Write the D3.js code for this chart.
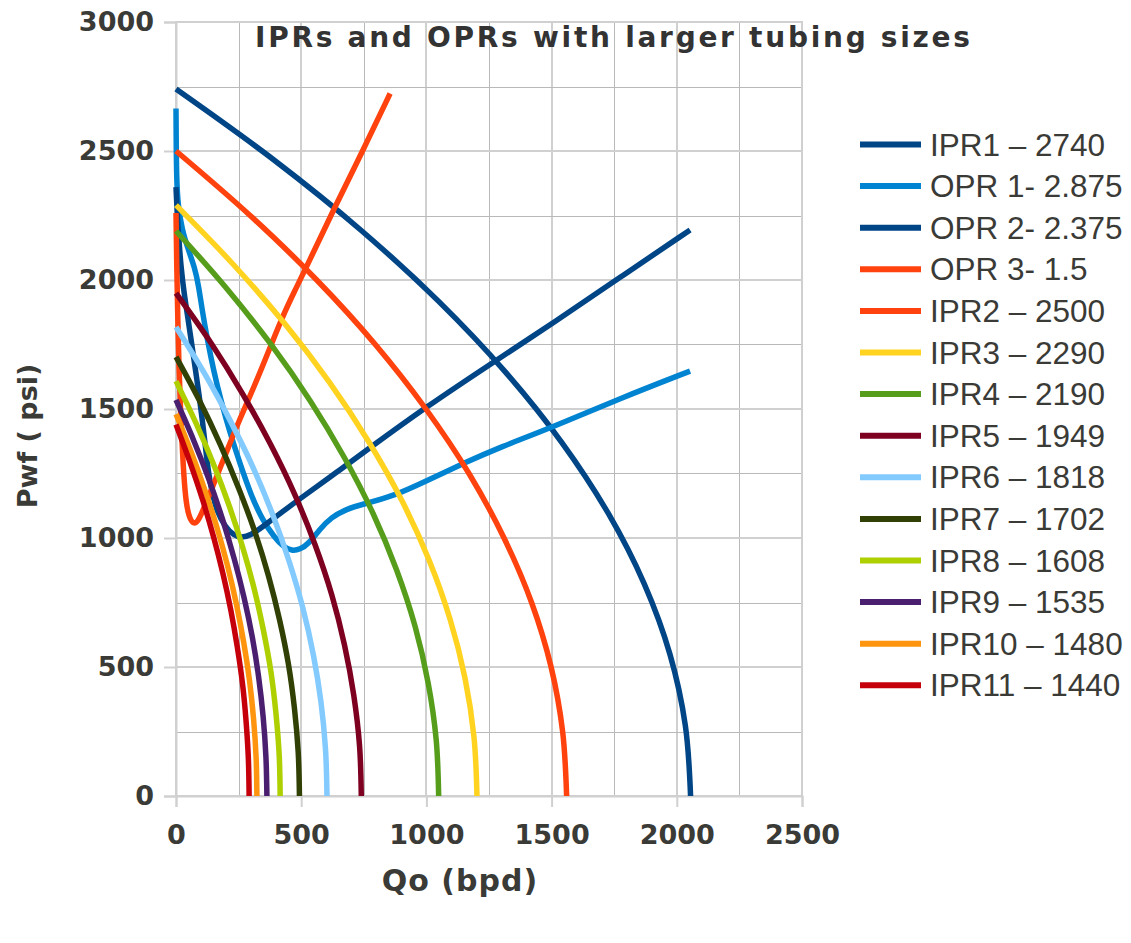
<!DOCTYPE html>
<html>
<head>
<meta charset="utf-8">
<script src="https://cdn.jsdelivr.net/npm/d3@7"></script>
<style>
  html, body { margin: 0; padding: 0; background: #ffffff; }
  svg { display: block; }
</style>
</head>
<body>
<svg id="chart" width="1131" height="943"></svg>
<script>
// Axis ticks
const xTicks = [0, 500, 1000, 1500, 2000, 2500];
const yTicks = [0, 500, 1000, 1500, 2000, 2500, 3000];
const gridStep = 250;

// Inflow performance curves: [rate Qo (bpd), flowing pressure Pwf (psi)]
const ipr1 = [[0,2740],[390,2466],[740,2192],[1048,1918],[1315,1644],[1541,1370],[1726,1096],[1870,822],[1973,548],[2034,274],[2055,0]];
const ipr2 = [[0,2500],[296,2250],[562,2000],[796,1750],[998,1500],[1170,1250],[1310,1000],[1420,750],[1498,500],[1544,250],[1560,0]];
const ipr3 = [[0,2290],[228,2061],[433,1832],[613,1603],[769,1374],[902,1145],[1010,916],[1094,687],[1154,458],[1190,229],[1202,0]];
const ipr4 = [[0,2190],[199,1971],[378,1752],[535,1533],[671,1314],[787,1095],[881,876],[955,657],[1007,438],[1039,219],[1049,0]];
const ipr5 = [[0,1949],[141,1754],[266,1559],[377,1364],[474,1169],[555,975],[622,780],[673,585],[710,390],[733,195],[740,0]];
const ipr6 = [[0,1818],[115,1636],[217,1454],[308,1273],[386,1091],[452,909],[507,727],[549,545],[579,364],[597,182],[603,0]];
const ipr7 = [[0,1702],[94,1532],[177,1362],[251,1191],[316,1021],[370,851],[414,681],[449,511],[473,340],[488,170],[493,0]];
const ipr8 = [[0,1608],[79,1447],[150,1286],[212,1126],[266,965],[312,804],[349,643],[379,482],[399,322],[412,161],[416,0]];
const ipr9 = [[0,1535],[69,1382],[131,1228],[185,1075],[232,921],[272,768],[305,614],[330,461],[348,307],[359,154],[363,0]];
const ipr10 = [[0,1480],[61,1332],[116,1184],[165,1036],[207,888],[242,740],[271,592],[294,444],[310,296],[320,148],[323,0]];
const ipr11 = [[0,1440],[55,1296],[105,1152],[149,1008],[187,864],[219,720],[245,576],[266,432],[280,288],[289,144],[292,0]];

// Outflow (tubing) performance curves: [Qo (bpd), Pwf (psi)]
const opr1 = [[0,2665],[1,2500],[3,2380],[8,2290],[24,2195],[50,2115],[74,2050],[90,1980],[105,1880],[125,1770],[150,1650],[180,1530],[215,1410],[255,1290],[300,1165],[345,1070],[395,1000],[430,965],[462,950],[495,955],[530,978],[575,1035],[620,1080],[680,1112],[750,1132],[868,1162],[1001,1222],[1147,1289],[1294,1352],[1500,1428],[1773,1541],[2053,1647]];
const opr2 = [[0,2360],[5,2250],[12,2150],[20,2050],[32,1950],[48,1850],[63,1750],[78,1650],[93,1550],[106,1450],[118,1350],[130,1250],[145,1170],[165,1100],[195,1045],[230,1010],[262,1000],[300,1012],[342,1040],[422,1100],[509,1162],[642,1255],[761,1340],[994,1505],[1281,1690],[1507,1834],[1773,2010],[2053,2194]];
const opr3 = [[0,2260],[3,2050],[7,1850],[12,1650],[18,1500],[25,1350],[32,1230],[40,1140],[52,1080],[70,1052],[88,1065],[105,1100],[149,1205],[202,1335],[256,1464],[315,1593],[369,1722],[422,1851],[475,1960],[522,2052],[628,2271],[748,2504],[855,2723]];

// Series in drawing / legend order
const seriesNames = ["IPR1 – 2740", "OPR 1- 2.875", "OPR 2- 2.375", "OPR 3- 1.5", "IPR2 – 2500", "IPR3 – 2290", "IPR4 – 2190", "IPR5 – 1949", "IPR6 – 1818", "IPR7 – 1702", "IPR8 – 1608", "IPR9 – 1535", "IPR10 – 1480", "IPR11 – 1440"];
const seriesData = [ipr1, opr1, opr2, opr3, ipr2, ipr3, ipr4, ipr5, ipr6, ipr7, ipr8, ipr9, ipr10, ipr11];
const seriesColors = ["#004586", "#0084d1", "#004586", "#ff420e", "#ff420e", "#ffd320", "#579d1c", "#7e0021", "#83caff", "#314004", "#aecf00", "#4b1f6f", "#ff950e", "#c5000b"];
const seriesIsOutflow = [false, true, true, true, false, false, false, false, false, false, false, false, false, false];

const chartTitle = "IPRs and OPRs with larger tubing sizes";
const xTitle = "Qo (bpd)";
const yTitle = "Pwf ( psi)";

const svg = d3.select("#chart");
const plot = { left: 176, right: 802, top: 22, bottom: 796 };

const x = d3.scaleLinear().domain([0, 2500]).range([plot.left, plot.right]);
const y = d3.scaleLinear().domain([0, 3000]).range([plot.bottom, plot.top]);

const labelColor = "#3a3a36";
const gridMinor = "#b9b9b9";
const gridMajor = "#d0d0d0";

// Grid
const grid = svg.append("g");
const xGrid = d3.range(0, 2500 + 1, gridStep);
const yGrid = d3.range(0, 3000 + 1, gridStep);
grid.selectAll("line.vx").data(xGrid).join("line")
  .attr("x1", d => d % 500 === 0 ? Math.round(x(d)) : Math.round(x(d)) + 0.5)
  .attr("x2", d => d % 500 === 0 ? Math.round(x(d)) : Math.round(x(d)) + 0.5)
  .attr("y1", plot.top).attr("y2", plot.bottom)
  .attr("stroke", d => d % 500 === 0 ? gridMajor : gridMinor)
  .attr("stroke-width", d => d % 500 === 0 ? 2 : 1);
grid.selectAll("line.hy").data(yGrid).join("line")
  .attr("y1", d => d % 500 === 0 ? Math.round(y(d)) : Math.round(y(d)) + 0.5)
  .attr("y2", d => d % 500 === 0 ? Math.round(y(d)) : Math.round(y(d)) + 0.5)
  .attr("x1", plot.left).attr("x2", plot.right)
  .attr("stroke", d => d % 500 === 0 ? gridMajor : gridMinor)
  .attr("stroke-width", d => d % 500 === 0 ? 2 : 1);

// Axes
const fontHeavy = "'DejaVu Sans', sans-serif";
const yAxis = svg.append("g")
  .attr("transform", `translate(${plot.left},0)`)
  .call(d3.axisLeft(y).tickValues(yTicks).tickSize(12).tickPadding(10).tickFormat(d3.format("d")));
const xAxis = svg.append("g")
  .attr("transform", `translate(0,${plot.bottom})`)
  .call(d3.axisBottom(x).tickValues(xTicks).tickSize(11).tickPadding(12).tickFormat(d3.format("d")));
[xAxis, yAxis].forEach(a => {
  a.select(".domain").attr("stroke", gridMajor).attr("stroke-width", 2);
  a.selectAll(".tick line").attr("stroke", gridMajor).attr("stroke-width", 2);
  a.selectAll(".tick text")
    .attr("fill", labelColor)
    .attr("font-family", fontHeavy)
    .attr("font-weight", "bold")
    .attr("font-size", 27);
});
yAxis.selectAll(".tick text").attr("x", -22);
xAxis.selectAll(".tick text").attr("dy", "0.71em").attr("y", 29);

// Frame
svg.append("rect")
  .attr("x", plot.left).attr("y", plot.top)
  .attr("width", plot.right - plot.left).attr("height", plot.bottom - plot.top)
  .attr("fill", "none").attr("stroke", gridMajor).attr("stroke-width", 2);

// Curves
svg.append("clipPath").attr("id", "plotClip")
  .append("rect")
  .attr("x", plot.left - 3).attr("y", plot.top)
  .attr("width", plot.right - plot.left + 6).attr("height", plot.bottom - plot.top);

const inflowLine = d3.line()
  .x(d => x(d[0]))
  .y(d => y(d[1]))
  .curve(d3.curveCatmullRom.alpha(0.5));
const outflowLine = d3.line()
  .x(d => x(d[0]))
  .y(d => y(d[1]))
  .curve(d3.curveBasis);

svg.append("g").attr("clip-path", "url(#plotClip)")
  .selectAll("path").data(seriesData).join("path")
  .attr("d", (d, i) => seriesIsOutflow[i] ? outflowLine(d) : inflowLine(d))
  .attr("fill", "none")
  .attr("stroke", (d, i) => seriesColors[i])
  .attr("stroke-width", 5.5)
  .attr("stroke-linejoin", "round")
  .attr("stroke-linecap", "butt");

// Title
svg.append("text")
  .attr("x", 255).attr("y", 47)
  .attr("textLength", 715).attr("lengthAdjust", "spacing")
  .attr("fill", "#333333")
  .attr("font-family", fontHeavy)
  .attr("font-weight", "bold")
  .attr("font-size", 28)
  .text(chartTitle);

// Axis titles
svg.append("text")
  .attr("x", 460).attr("y", 891)
  .attr("text-anchor", "middle")
  .attr("fill", labelColor)
  .attr("font-family", fontHeavy)
  .attr("font-weight", "bold")
  .attr("font-size", 30)
  .attr("letter-spacing", 1)
  .text(xTitle);

svg.append("text")
  .attr("transform", "translate(37,436) rotate(-90)")
  .attr("text-anchor", "middle")
  .attr("fill", labelColor)
  .attr("font-family", fontHeavy)
  .attr("font-weight", "bold")
  .attr("font-size", 27)
  .text(yTitle);

// Legend
const legend = svg.append("g");
const rowY = i => 144.5 + i * 41.6;
const rows = legend.selectAll("g").data(seriesNames).join("g")
  .attr("transform", (d, i) => `translate(0,${rowY(i)})`);
rows.append("line")
  .attr("x1", 860).attr("x2", 921)
  .attr("y1", 0).attr("y2", 0)
  .attr("stroke", (d, i) => seriesColors[i])
  .attr("stroke-width", 6);
rows.append("text")
  .attr("x", 930).attr("y", 11)
  .attr("fill", labelColor)
  .attr("font-family", "'Liberation Sans', Arial, sans-serif")
  .attr("font-size", 31.5)
  .text(d => d);
</script>
</body>
</html>
